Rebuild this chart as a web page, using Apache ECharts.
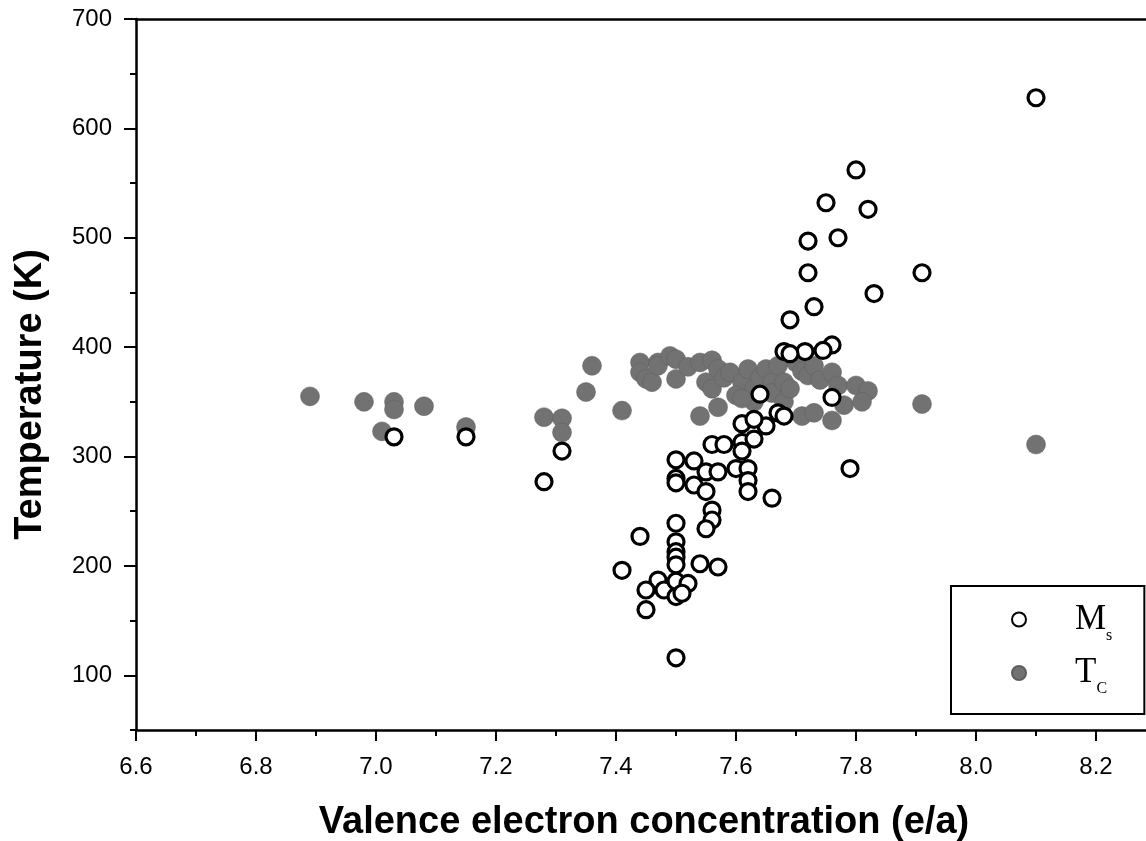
<!DOCTYPE html>
<html>
<head>
<meta charset="utf-8">
<script src="https://cdn.jsdelivr.net/npm/echarts@6/dist/echarts.min.js"></script>
<style>
html,body{margin:0;padding:0;background:#fff;}
#chart{width:1146px;height:841px;}
</style>
</head>
<body>
<div id="chart"></div>
<script>
// ---- data (valence electron concentration e/a, temperature K) ----
const msPoints = [
  [8.10,628],[7.80,562],[7.75,532],[7.82,526],[7.77,500],[7.72,497],[7.72,468],[7.91,468],
  [7.83,449],[7.73,437],[7.69,425],[7.76,402],[7.745,397],[7.715,396],[7.68,396],[7.69,394],
  [7.76,354],[7.64,357],[7.61,330],[7.67,340],[7.68,337],[7.65,328],[7.63,334],
  [7.56,311],[7.58,311],[7.61,313],[7.63,316],[7.61,305],[7.50,297],[7.53,296],
  [7.60,289],[7.62,289],[7.62,278],[7.62,268],[7.55,286],[7.57,286],[7.53,274],[7.55,268],
  [7.50,280],[7.50,276],[7.56,251],[7.56,242],[7.55,234],[7.50,239],[7.44,227],
  [7.50,222],[7.50,213],[7.50,208],[7.50,201],[7.54,202],[7.57,199],[7.41,196],
  [7.47,187],[7.45,178],[7.48,178],[7.50,186],[7.52,184],[7.50,172],[7.51,175],
  [7.45,160],[7.50,116],[7.03,318],[7.15,318],[7.31,305],[7.28,277],[7.79,289],[7.66,262]
];
const tcPoints = [
  [6.89,355],[6.98,350],[7.03,350],[7.03,343],[7.08,346],[7.01,323],[7.15,327],
  [7.28,336],[7.31,335],[7.31,322],[7.35,359],[7.36,383],[7.41,342],
  [7.44,386],[7.44,377],[7.45,371],[7.46,368],[7.47,386],[7.47,383],[7.49,392],
  [7.50,389],[7.50,371],[7.52,382],[7.54,386],[7.56,388],[7.55,368],[7.56,362],
  [7.54,337],[7.57,345],[7.57,380],[7.58,372],[7.59,377],[7.61,368],[7.62,380],
  [7.60,356],[7.63,362],[7.64,372],[7.65,380],[7.66,368],[7.66,358],[7.67,383],
  [7.68,368],[7.70,386],[7.71,378],[7.72,374],[7.73,383],[7.74,370],[7.76,377],
  [7.77,365],[7.80,365],[7.82,360],[7.78,347],[7.81,350],[7.71,337],[7.73,340],
  [7.76,333],[7.68,350],[7.69,362],[7.63,350],[7.61,353],[7.91,348],[8.10,311]
];
const xMajorTicks = [6.6,6.8,7.0,7.2,7.4,7.6,7.8,8.0,8.2];
const xMinorTicks = [6.7,6.9,7.1,7.3,7.5,7.7,7.9,8.1];
const yMajorTicks = [100,200,300,400,500,600,700];
const yMinorTicks = [50,150,250,350,450,550,650];
const xTitle = 'Valence electron concentration (e/a)';
const yTitle = 'Temperature (K)';

const X_MIN = 6.6, X_MAX = 8.2833, Y_MIN = 50, Y_MAX = 700;
const sans = '"Liberation Sans", Arial, sans-serif';
const serif = '"Liberation Serif", "Times New Roman", serif';

const chart = echarts.init(document.getElementById('chart'), null, {renderer: 'canvas'});

function xAx(extra) {
  return Object.assign({
    type: 'value', min: X_MIN, max: X_MAX, gridIndex: 0,
    splitLine: {show: false}, axisLabel: {show: false}, axisTick: {show: false},
    axisLine: {show: false}
  }, extra);
}
function yAx(extra) {
  return Object.assign({
    type: 'value', min: Y_MIN, max: Y_MAX, gridIndex: 0,
    splitLine: {show: false}, axisLabel: {show: false}, axisTick: {show: false},
    axisLine: {show: false}
  }, extra);
}

chart.setOption({
  backgroundColor: '#ffffff',
  animation: false,
  grid: {left: 136, right: 0, top: 19, bottom: 111, containLabel: false, outerBoundsMode: 'none'},
  xAxis: [
    xAx({
      position: 'bottom',
      name: xTitle, nameLocation: 'middle', nameGap: 74,
      nameTextStyle: {fontFamily: sans, fontWeight: 'bold', fontSize: 38, color: '#000', padding: [0, 0, 0, 6]},
      axisLine: {show: true, onZero: false, lineStyle: {color: '#000', width: 2.5}},
      axisTick: {show: true, customValues: xMajorTicks, length: 11, lineStyle: {color: '#000', width: 2}},
      axisLabel: {show: true, customValues: xMajorTicks, margin: 25,
        fontFamily: sans, fontSize: 24, color: '#000',
        formatter: v => Number(v).toFixed(1)}
    }),
    xAx({
      position: 'bottom',
      axisTick: {show: true, customValues: xMinorTicks, length: 6, lineStyle: {color: '#000', width: 2}}
    }),
    xAx({
      position: 'top',
      axisLine: {show: true, onZero: false, lineStyle: {color: '#000', width: 2.5}}
    })
  ],
  yAxis: [
    yAx({
      position: 'left',
      name: yTitle, nameLocation: 'middle', nameGap: 86, nameRotate: 90,
      nameTextStyle: {fontFamily: sans, fontWeight: 'bold', fontSize: 38, color: '#000', padding: [0, 40, 0, 0]},
      axisLine: {show: true, onZero: false, lineStyle: {color: '#000', width: 2.5}},
      axisTick: {show: true, customValues: yMajorTicks, length: 12, lineStyle: {color: '#000', width: 2}},
      axisLabel: {show: true, customValues: yMajorTicks, margin: 24,
        fontFamily: sans, fontSize: 24, color: '#000'}
    }),
    yAx({
      position: 'left',
      axisTick: {show: true, customValues: yMinorTicks, length: 6, lineStyle: {color: '#000', width: 2}}
    })
  ],
  legend: {
    orient: 'vertical',
    left: 951, top: 586,
    padding: [16, 32, 17, 60],
    itemGap: 12,
    itemWidth: 14, itemHeight: 14,
    borderColor: '#000', borderWidth: 2,
    backgroundColor: '#fff',
    data: ['Ms', 'TC'],
    formatter: name => name === 'Ms' ? '{big|M}{sub|s}' : '{big|T}{sub|C}',
    textStyle: {
      rich: {
        big: {fontFamily: serif, fontSize: 35, color: '#000', lineHeight: 48, padding: [0, 0, 0, 44]},
        sub: {fontFamily: serif, fontSize: 16, color: '#000', lineHeight: 48, verticalAlign: 'bottom', padding: [16, 0, 0, 0]}
      }
    }
  },
  series: [
    {
      name: 'TC', type: 'scatter', xAxisIndex: 0, yAxisIndex: 0,
      data: tcPoints, symbol: 'circle', symbolSize: 19,
      itemStyle: {color: '#727272', borderColor: '#5e5e5e', borderWidth: 0.5, opacity: 1},
      z: 2
    },
    {
      name: 'Ms', type: 'scatter', xAxisIndex: 0, yAxisIndex: 0,
      data: msPoints, symbol: 'circle', symbolSize: 16,
      itemStyle: {color: '#ffffff', borderColor: '#000', borderWidth: 3.2, opacity: 1},
      z: 3
    }
  ]
});
</script>
</body>
</html>
